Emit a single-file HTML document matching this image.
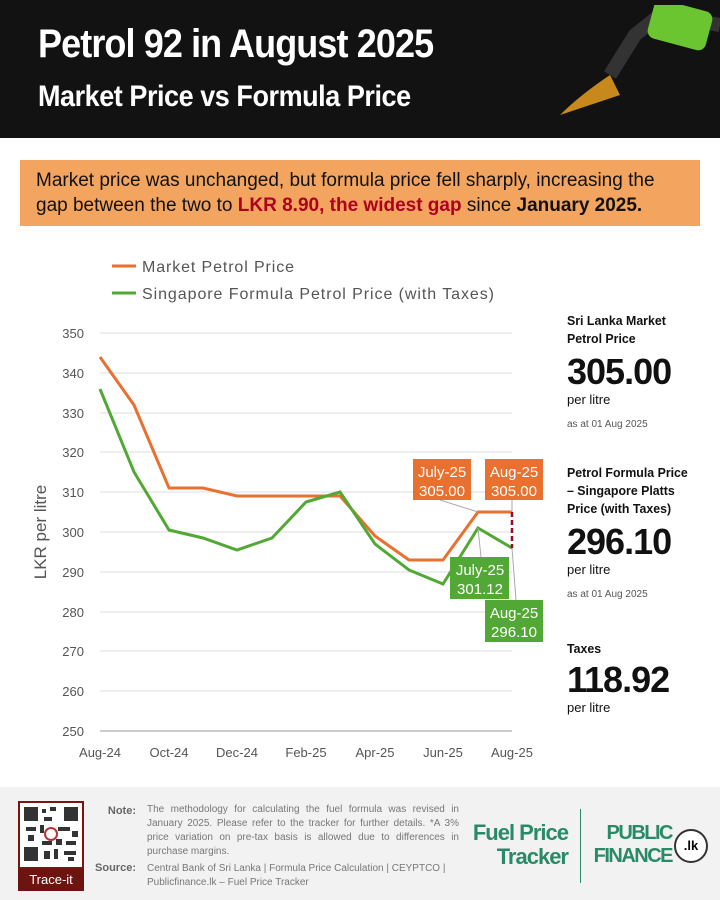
<!DOCTYPE html>
<html><head><meta charset="utf-8"><style>
body{margin:0;width:720px;height:900px;position:relative;font-family:"Liberation Sans",sans-serif;background:#fff;overflow:hidden}
.hdr{position:absolute;left:0;top:0;width:720px;height:138px;background:#121212}
.t1{position:absolute;left:38px;top:22px;color:#fff;font-weight:bold;font-size:40px;letter-spacing:-1px;transform:scaleX(.9);transform-origin:left}
.t2{position:absolute;left:38px;top:80px;color:#fff;font-weight:bold;font-size:30px;letter-spacing:-.5px;transform:scaleX(.9);transform-origin:left}
.box{position:absolute;left:20px;top:160px;width:680px;height:66px;background:#f3a45f;font-size:19px;line-height:25px;padding:8px 16px;box-sizing:border-box;color:#111}
.r{position:absolute;left:567px;color:#111}
.rl{font-weight:bold;font-size:13px;line-height:18px;transform:scaleX(.95);transform-origin:left}
.rv{font-weight:bold;font-size:36px;line-height:40px;letter-spacing:-1px}
.rs{font-size:13px}
.ra{font-size:10px;color:#555}
.ftr{position:absolute;left:0;top:787px;width:720px;height:113px;background:#f2f2f2}
.nw{white-space:nowrap}
</style></head><body>
<div class="hdr">
<div class="t1">Petrol 92 in August 2025</div>
<div class="t2">Market Price vs Formula Price</div>
<svg style="position:absolute;left:540px;top:5px" width="180" height="130"><path d="M180 20 L120 10 L95 30 L70 70" stroke="#333" stroke-width="14" fill="none"/><rect x="110" y="0" width="60" height="40" rx="8" fill="#6bc531" transform="rotate(15 140 20)"/><path d="M70 70 Q40 90 20 110 Q50 100 80 90Z" fill="#c8891c"/></svg>
</div>
<div class="box">Market price was unchanged, but formula price fell sharply, increasing the gap between the two to <b style="color:#b00020">LKR 8.90, the widest gap</b> since <b>January 2025.</b></div>
<svg style="position:absolute;left:0;top:240px" width="560" height="540" viewBox="0 240 560 540" font-family="Liberation Sans, sans-serif">
<line x1="112" y1="266" x2="136" y2="266" stroke="#e87130" stroke-width="3"/>
<text x="142" y="272" font-size="16" fill="#555" textLength="152">Market Petrol Price</text>
<line x1="112" y1="293" x2="136" y2="293" stroke="#52a834" stroke-width="3"/>
<text x="142" y="299" font-size="16" fill="#555" textLength="352">Singapore Formula Petrol Price (with Taxes)</text>
<g stroke="#ddd" stroke-width="1">
<line x1="100" x2="512" y1="333" y2="333"/><line x1="100" x2="512" y1="373" y2="373"/><line x1="100" x2="512" y1="413" y2="413"/><line x1="100" x2="512" y1="452" y2="452"/><line x1="100" x2="512" y1="492" y2="492"/><line x1="100" x2="512" y1="532" y2="532"/><line x1="100" x2="512" y1="572" y2="572"/><line x1="100" x2="512" y1="612" y2="612"/><line x1="100" x2="512" y1="651" y2="651"/><line x1="100" x2="512" y1="691" y2="691"/></g>
<line x1="100" x2="512" y1="731" y2="731" stroke="#999"/>
<g font-size="13" fill="#555" text-anchor="end">
<text x="84" y="338">350</text><text x="84" y="378">340</text><text x="84" y="418">330</text><text x="84" y="457">320</text><text x="84" y="497">310</text><text x="84" y="537">300</text><text x="84" y="577">290</text><text x="84" y="617">280</text><text x="84" y="656">270</text><text x="84" y="696">260</text><text x="84" y="736">250</text></g>
<g font-size="13" fill="#555" text-anchor="middle">
<text x="100" y="757">Aug-24</text><text x="169" y="757">Oct-24</text><text x="237" y="757">Dec-24</text><text x="306" y="757">Feb-25</text><text x="375" y="757">Apr-25</text><text x="443" y="757">Jun-25</text><text x="512" y="757">Aug-25</text></g>
<text transform="translate(46 532) rotate(-90)" font-size="17" fill="#555" text-anchor="middle">LKR per litre</text>
<polyline fill="none" stroke="#e87130" stroke-width="3" points="100,357 134,405 169,488 203,488 237,496 272,496 306,496 340,496 375,536 409,560 443,560 478,512 512,512"/>
<polyline fill="none" stroke="#52a834" stroke-width="3" points="100,389 134,472 169,530 203,538 237,550 272,538 306,502 340,492 375,544 409,570 443,584 478,528 512,548"/>
<line x1="512" y1="512" x2="512" y2="548" stroke="#9b0a1e" stroke-width="2.5" stroke-dasharray="5,3"/>
<g stroke="#aaa" stroke-width="1"><line x1="440" y1="500" x2="478" y2="512"/><line x1="512" y1="500" x2="512" y2="512"/><line x1="478" y1="528" x2="481" y2="557"/><line x1="512" y1="548" x2="516" y2="600"/></g>
<rect x="413" y="459" width="58" height="41" fill="#e87130"/>
<text x="442" y="477" font-size="15" fill="#fff" text-anchor="middle">July-25</text><text x="442" y="496" font-size="15" fill="#fff" text-anchor="middle">305.00</text>
<rect x="485" y="459" width="58" height="41" fill="#e87130"/>
<text x="514" y="477" font-size="15" fill="#fff" text-anchor="middle">Aug-25</text><text x="514" y="496" font-size="15" fill="#fff" text-anchor="middle">305.00</text>
<rect x="450" y="557" width="59" height="42" fill="#52a834"/>
<text x="480" y="575" font-size="15" fill="#fff" text-anchor="middle">July-25</text><text x="480" y="594" font-size="15" fill="#fff" text-anchor="middle">301.12</text>
<rect x="485" y="600" width="58" height="42" fill="#52a834"/>
<text x="514" y="618" font-size="15" fill="#fff" text-anchor="middle">Aug-25</text><text x="514" y="637" font-size="15" fill="#fff" text-anchor="middle">296.10</text>
</svg>
<div class="r" style="top:312px"><div class="rl">Sri Lanka Market<br>Petrol Price</div><div class="rv" style="margin-top:4px">305.00</div><div class="rs">per litre</div><div class="ra" style="margin-top:12px">as at 01 Aug 2025</div></div>
<div class="r" style="top:464px"><div class="rl nw">Petrol Formula Price<br>– Singapore Platts<br>Price (with Taxes)</div><div class="rv" style="margin-top:4px">296.10</div><div class="rs">per litre</div><div class="ra" style="margin-top:12px">as at 01 Aug 2025</div></div>
<div class="r" style="top:640px"><div class="rl">Taxes</div><div class="rv" style="margin-top:2px">118.92</div><div class="rs">per litre</div></div>
<div class="ftr">
<svg style="position:absolute;left:18px;top:14px" width="66" height="68"><rect x="1" y="1" width="64" height="66" fill="#fff" stroke="#7a1512" stroke-width="2"/>
<g fill="#333"><rect x="6" y="6" width="14" height="14"/><rect x="46" y="6" width="14" height="14"/><rect x="6" y="46" width="14" height="14"/>
<rect x="24" y="8" width="4" height="4"/><rect x="32" y="6" width="6" height="4"/><rect x="26" y="16" width="8" height="4"/><rect x="8" y="26" width="10" height="4"/><rect x="22" y="24" width="4" height="8"/><rect x="40" y="26" width="12" height="4"/><rect x="54" y="30" width="6" height="6"/><rect x="10" y="34" width="6" height="6"/><rect x="24" y="40" width="10" height="4"/><rect x="38" y="38" width="6" height="6"/><rect x="48" y="40" width="10" height="4"/><rect x="26" y="50" width="6" height="8"/><rect x="36" y="48" width="4" height="10"/><rect x="46" y="50" width="12" height="4"/><rect x="50" y="56" width="6" height="4"/></g>
<circle cx="33" cy="33" r="6" fill="none" stroke="#b33" stroke-width="2"/></svg>
<div style="position:absolute;left:18px;top:82px;width:66px;height:22px;background:#6e1410;color:#fff;font-size:13px;text-align:center;line-height:22px">Trace-it</div>
<div style="position:absolute;left:96px;top:18px;width:40px;text-align:right;font-size:11px;font-weight:bold;color:#666">Note:</div>
<div style="position:absolute;left:147px;top:16px;width:312px;font-size:10px;line-height:14px;color:#777;text-align:justify">The methodology for calculating the fuel formula was revised in January 2025. Please refer to the tracker for further details. *A 3% price variation on pre-tax basis is allowed due to differences in purchase margins.</div>
<div style="position:absolute;left:94px;top:75px;width:42px;text-align:right;font-size:11px;font-weight:bold;color:#666">Source:</div>
<div style="position:absolute;left:147px;top:75px;width:312px;font-size:10px;line-height:14px;color:#777">Central Bank of Sri Lanka | Formula Price Calculation | CEYPTCO | Publicfinance.lk – Fuel Price Tracker</div>
<div class="nw" style="position:absolute;left:440px;top:34px;width:128px;text-align:right;font-size:22px;font-weight:bold;color:#2a8a68;line-height:24px;letter-spacing:-1px">Fuel Price<br>Tracker</div>
<div style="position:absolute;left:580px;top:22px;width:1px;height:74px;background:#2a8a68"></div>
<div class="nw" style="position:absolute;left:586px;top:35px;width:86px;text-align:right;font-size:20px;font-weight:bold;color:#2a8a68;line-height:23px;letter-spacing:-1.5px">PUBLIC<br>FINANCE</div>
<div style="position:absolute;left:674px;top:42px;width:30px;height:30px;border:2px solid #333;border-radius:50%;font-size:13px;font-weight:bold;text-align:center;line-height:30px;background:#fff">.lk</div>
</div>
</body></html>
